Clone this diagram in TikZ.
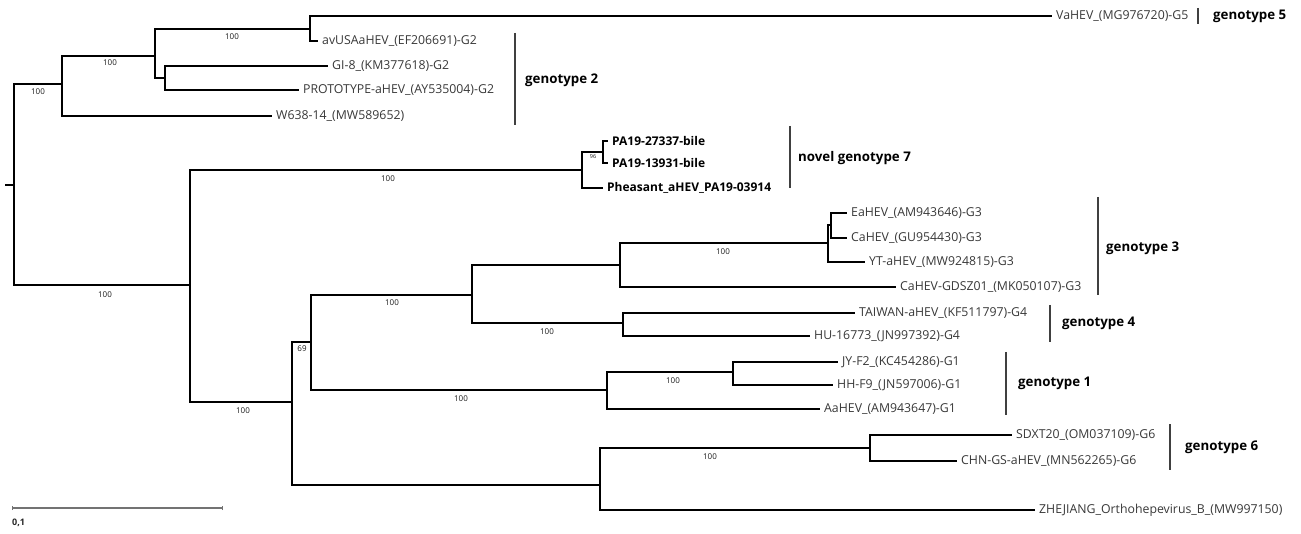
\documentclass[tikz,border=0pt]{standalone}
\usepackage{fontspec}
\setmainfont{Open Sans}
\begin{document}
\begin{tikzpicture}[x=1pt,y=-1pt,
  br/.style={line width=1.6pt, black},
  leaf/.style={anchor=west, inner sep=4pt, font=\fontsize{12.3}{13}\selectfont, text=black!78},
  bleaf/.style={anchor=west, inner sep=4pt, font=\bfseries\fontsize{12}{13}\selectfont, text=black},
  bs/.style={font=\fontsize{8}{9}\selectfont, text=black!90, inner sep=0pt},
  gbar/.style={line width=1.1pt, black!75},
  glab/.style={anchor=west, font=\bfseries\fontsize{13.3}{14}\selectfont, inner sep=0pt}]
\useasboundingbox (0,0) rectangle (1301,534);
% internal nodes
\coordinate (Rt) at (5,185);
\coordinate (R) at (14,185);
\coordinate (A) at (62,84);
\coordinate (B) at (155,56);
\coordinate (C) at (310,29);
\coordinate (D) at (165,78);
\coordinate (E) at (190,285);
\coordinate (N7) at (582,170);
\coordinate (N7a) at (603,152);
\coordinate (F) at (292,402);
\coordinate (G) at (311,342);
\coordinate (H) at (472,295);
\coordinate (G3) at (620,265);
\coordinate (G3a) at (828,243);
\coordinate (G3b) at (831,225);
\coordinate (G4) at (623,323);
\coordinate (G1) at (607,390);
\coordinate (G1a) at (733,372);
\coordinate (P6) at (600,485);
\coordinate (G6) at (870,448);
% leaves
\node[leaf] (va) at (1052,16) {VaHEV\_(MG976720)-G5};
\node[leaf] (avusa) at (318,41) {avUSAaHEV\_(EF206691)-G2};
\node[leaf] (gi8) at (328,66) {GI-8\_(KM377618)-G2};
\node[leaf] (proto) at (299,90) {PROTOTYPE-aHEV\_(AY535004)-G2};
\node[leaf] (w638) at (272,116) {W638-14\_(MW589652)};
\node[bleaf] (pa1) at (608,141) {PA19-27337-bile};
\node[bleaf] (pa2) at (608,163) {PA19-13931-bile};
\node[bleaf] (pheas) at (603,188) {Pheasant\_aHEV\_PA19-03914};
\node[leaf] (ea) at (847,213) {EaHEV\_(AM943646)-G3};
\node[leaf] (ca) at (847,238) {CaHEV\_(GU954430)-G3};
\node[leaf] (yt) at (865,262) {YT-aHEV\_(MW924815)-G3};
\node[leaf] (gdsz) at (896,287) {CaHEV-GDSZ01\_(MK050107)-G3};
\node[leaf] (tw) at (855,313) {TAIWAN-aHEV\_(KF511797)-G4};
\node[leaf] (hu) at (810,336) {HU-16773\_(JN997392)-G4};
\node[leaf] (jy) at (838,362) {JY-F2\_(KC454286)-G1};
\node[leaf] (hh) at (833,385) {HH-F9\_(JN597006)-G1};
\node[leaf] (aa) at (820,409) {AaHEV\_(AM943647)-G1};
\node[leaf] (sd) at (1012,435) {SDXT20\_(OM037109)-G6};
\node[leaf] (chn) at (957,461) {CHN-GS-aHEV\_(MN562265)-G6};
\node[leaf] (zj) at (1035,510) {ZHEJIANG\_Orthohepevirus\_B\_(MW997150)};
% branches
\draw[br] (Rt) -- (R);
\draw[br] (R) |- (A);
\draw[br] (R) |- (E);
\draw[br] (A) |- (B);
\draw[br] (A) |- (w638.west);
\draw[br] (B) |- (C);
\draw[br] (B) |- (D);
\draw[br] (C) |- (va.west);
\draw[br] (C) |- (avusa.west);
\draw[br] (D) |- (gi8.west);
\draw[br] (D) |- (proto.west);
\draw[br] (E) |- (N7);
\draw[br] (E) |- (F);
\draw[br] (N7) |- (N7a);
\draw[br] (N7) |- (pheas.west);
\draw[br] (N7a) |- (pa1.west);
\draw[br] (N7a) |- (pa2.west);
\draw[br] (F) |- (G);
\draw[br] (F) |- (P6);
\draw[br] (G) |- (H);
\draw[br] (G) |- (G1);
\draw[br] (H) |- (G3);
\draw[br] (H) |- (G4);
\draw[br] (G3) |- (G3a);
\draw[br] (G3) |- (gdsz.west);
\draw[br] (G3a) |- (G3b);
\draw[br] (G3a) |- (yt.west);
\draw[br] (G3b) |- (ea.west);
\draw[br] (G3b) |- (ca.west);
\draw[br] (G4) |- (tw.west);
\draw[br] (G4) |- (hu.west);
\draw[br] (G1) |- (G1a);
\draw[br] (G1) |- (aa.west);
\draw[br] (G1a) |- (jy.west);
\draw[br] (G1a) |- (hh.west);
\draw[br] (P6) |- (G6);
\draw[br] (P6) |- (zj.west);
\draw[br] (G6) |- (sd.west);
\draw[br] (G6) |- (chn.west);
% bootstrap values
\node[bs] (bs1) at (38,92) {100};
\node[bs] (bs2) at (110,63) {100};
\node[bs] (bs3) at (232,37) {100};
\node[bs] (bs4) at (388,179) {100};
\node[bs] (bs5) at (105,295) {100};
\node[bs, font=\fontsize{5.5}{6}\selectfont] (bs6) at (593,157) {96};
\node[bs] (bs7) at (243,411) {100};
\node[bs] (bs8) at (302,349) {69};
\node[bs] (bs9) at (392,303) {100};
\node[bs] (bs10) at (461,399) {100};
\node[bs] (bs11) at (547,332) {100};
\node[bs] (bs12) at (723,252) {100};
\node[bs] (bs13) at (673,381) {100};
\node[bs] (bs14) at (710,457) {100};
% genotype bars
\coordinate (g5t) at (1198,8);   \coordinate (g5b) at (1198,24);
\coordinate (g2t) at (515,33);   \coordinate (g2b) at (515,125);
\coordinate (g7t) at (790,126);  \coordinate (g7b) at (790,188);
\coordinate (g3t) at (1098,197); \coordinate (g3b) at (1098,295);
\coordinate (g4t) at (1050,305); \coordinate (g4b) at (1050,342);
\coordinate (g1t) at (1006,352); \coordinate (g1b) at (1006,415);
\coordinate (g6t) at (1170,424); \coordinate (g6b) at (1170,470);
\draw[gbar] (g5t) -- (g5b);
\draw[gbar] (g2t) -- (g2b);
\draw[gbar] (g7t) -- (g7b);
\draw[gbar] (g3t) -- (g3b);
\draw[gbar] (g4t) -- (g4b);
\draw[gbar] (g1t) -- (g1b);
\draw[gbar] (g6t) -- (g6b);
\node[glab] (l5) at (1213,16) {genotype 5};
\node[glab] (l2) at (525,80) {genotype 2};
\node[glab] (l7) at (798,158) {novel genotype 7};
\node[glab] (l3) at (1106,248) {genotype 3};
\node[glab] (l4) at (1062,323) {genotype 4};
\node[glab] (l1) at (1018,383) {genotype 1};
\node[glab] (l6) at (1185,447) {genotype 6};
% scale bar
\coordinate (sb1) at (12,508);
\coordinate (sb2) at (222,508);
\draw[line width=1.2pt, black!55] (sb1) -- (sb2);
\draw[line width=0.6pt, black!55] ([yshift=-2pt]sb1) -- ([yshift=2pt]sb1);
\draw[line width=0.6pt, black!55] ([yshift=-2pt]sb2) -- ([yshift=2pt]sb2);
\node[anchor=west, inner sep=0pt, font=\bfseries\fontsize{9}{10}\selectfont, text=black!85] (sbl) at (12,523) {0,1};
\end{tikzpicture}
\end{document}
